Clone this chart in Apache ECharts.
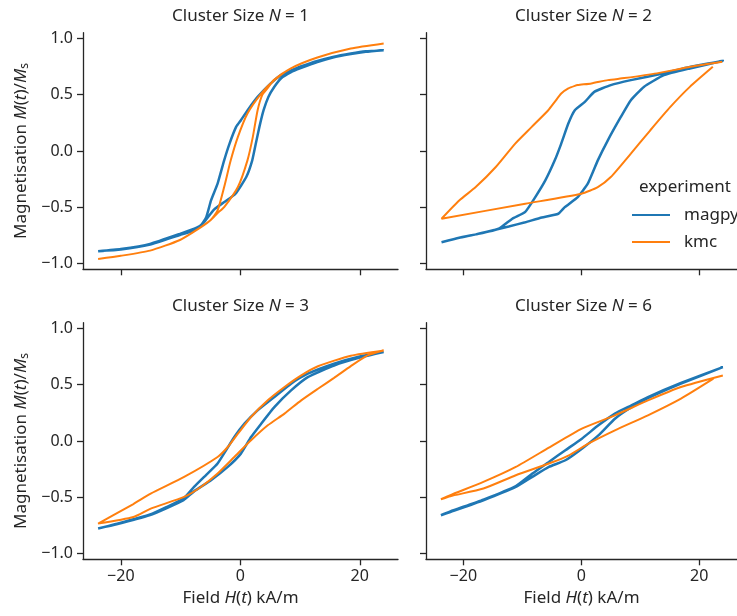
<!DOCTYPE html>
<html>
<head>
<meta charset="utf-8">
<script src="https://cdn.jsdelivr.net/npm/echarts@6/dist/echarts.min.js"></script>
<style>
  html, body { margin: 0; padding: 0; background: #ffffff; }
  #chart { width: 737px; height: 616px; }
</style>
</head>
<body>
<div id="chart"></div>
<script>
// Hysteresis loops: field H(t) [kA/m] against normalised magnetisation M(t)/Ms.
// Each loop is stored as a sweep: field values and the matching magnetisation.

// Cluster size N = 1
const n1MagpyH = [-23.8, -20, -15.1, -10.1, -7.3, -6.2, -4.4, -2.6, -0.8, 1.0, 2.0, 2.6, 3.2, 3.9, 4.7, 5.7, 6.8, 8.5, 10.1, 12.9, 15.5, 18.5, 21, 24,
                  21, 18.5, 15.5, 12.9, 10.1, 8.5, 6.8, 5.1, 2.9, 1.2, 0.1, -0.7, -1.8, -2.7, -3.8, -4.9, -5.7, -6.6, -8.0, -10.1, -15.1, -20, -23.8];
const n1MagpyM = [-0.89, -0.87, -0.824, -0.735, -0.68, -0.64, -0.52, -0.45, -0.379, -0.231, -0.083, 0.066, 0.214, 0.362, 0.48, 0.57, 0.644, 0.70, 0.735, 0.79, 0.83, 0.86, 0.88, 0.895,
                  0.885, 0.865, 0.835, 0.80, 0.75, 0.715, 0.673, 0.60, 0.48, 0.36, 0.273, 0.214, 0.066, -0.083, -0.29, -0.439, -0.587, -0.66, -0.71, -0.745, -0.83, -0.875, -0.89];
const n1KmcH = [-23.8, -20, -15.1, -10.1, -6.7, -5.0, -3.8, -2.7, -0.4, 1.2, 2.1, 2.9, 3.7, 4.6, 5.6, 8.4, 12.9, 18.5, 24,
                18.5, 12.9, 8.4, 5.7, 3.5, 1.2, -0.4, -1.6, -2.7, -3.8, -5.0, -6.7, -10.1, -15.1, -20, -23.8];
const n1KmcM = [-0.958, -0.93, -0.884, -0.79, -0.68, -0.615, -0.55, -0.498, -0.32, -0.083, 0.125, 0.362, 0.50, 0.56, 0.63, 0.732, 0.83, 0.91, 0.955,
                0.91, 0.83, 0.732, 0.629, 0.51, 0.333, 0.125, -0.083, -0.32, -0.528, -0.615, -0.68, -0.79, -0.884, -0.93, -0.958];

// Cluster size N = 2
const n2MagpyH = [-23.7, -20.7, -17.9, -15.1, -12.3, -9.5, -6.7, -3.9, -2.8, -0.6, 1.1, 2.8, 4.5, 6.7, 8.4, 10.6, 14.0, 18.4, 24,
                  18.4, 14.0, 8.4, 5.0, 2.2, 0.6, -1.1, -2.2, -3.4, -4.5, -6.1, -7.8, -9.5, -11.7, -14.0, -17.9, -20.7, -23.7];
const n2MagpyM = [-0.81, -0.77, -0.74, -0.706, -0.67, -0.632, -0.59, -0.557, -0.498, -0.409, -0.29, -0.083, 0.095, 0.302, 0.451, 0.569, 0.673, 0.733, 0.80,
                  0.745, 0.69, 0.629, 0.585, 0.525, 0.436, 0.362, 0.244, 0.066, -0.083, -0.261, -0.409, -0.54, -0.601, -0.69, -0.74, -0.77, -0.81];
const n2KmcH = [23.9, 18.5, 12.8, 7.3, 4.5, 1.7, -0.6, -1.1, -2.2, -3.4, -4.5, -5.6, -8.4, -11.2, -14.5, -17.9, -20.7, -23.7,
                -9.5, 0, 2.8, 5.0, 8.4, 11.7, 15.1, 18.4, 22.3];
const n2KmcM = [0.792, 0.747, 0.689, 0.647, 0.629, 0.60, 0.585, 0.578, 0.555, 0.51, 0.436, 0.362, 0.214, 0.066, -0.142, -0.32, -0.439, -0.601,
                -0.468, -0.379, -0.32, -0.231, -0.023, 0.184, 0.391, 0.569, 0.747];

// Cluster size N = 3
const n3MagpyH = [-23.8, -20.7, -15.1, -12.3, -9.5, -7.7, -4.9, -2.1, 0.1, 1.8, 3.5, 5.7, 8.5, 11.3, 15.7, 20, 24,
                  20, 15.7, 11.3, 8.5, 5.7, 2.9, 0.7, -1.0, -3.8, -5.7, -7.7, -9.5, -12.3, -15.1, -20.7, -23.8];
const n3MagpyM = [-0.777, -0.74, -0.658, -0.595, -0.525, -0.445, -0.348, -0.23, -0.112, 0.035, 0.154, 0.301, 0.449, 0.567, 0.67, 0.74, 0.789,
                  0.75, 0.686, 0.597, 0.509, 0.39, 0.272, 0.154, 0.035, -0.2, -0.3, -0.405, -0.51, -0.585, -0.652, -0.735, -0.777];
const n3KmcH = [24, 18.5, 13.0, 10.2, 7.4, 4.6, 1.8, -0.4, -2.1, -3.8, -9.4, -15, -17.9, -23.8,
                -17.9, -15, -9.4, -6.6, -3.8, -1.0, 1.8, 4.6, 7.4, 10.2, 13.0, 15.7, 18.5, 21.3, 24];
const n3KmcM = [0.804, 0.757, 0.663, 0.582, 0.479, 0.361, 0.213, 0.065, -0.053, -0.142, -0.319, -0.467, -0.56, -0.733,
                -0.674, -0.6, -0.496, -0.408, -0.289, -0.142, 0.006, 0.139, 0.243, 0.361, 0.464, 0.56, 0.665, 0.76, 0.804];

// Cluster size N = 6
const n6MagpyH = [-23.8, -22.2, -16.6, -11.1, -8.3, -5.5, -2.7, 0.1, 2.9, 5.7, 8.5, 11.3, 16.9, 24,
                  16.9, 11.3, 8.5, 5.7, 2.9, 0.1, -2.7, -5.5, -8.3, -11.1, -16.6, -22.2, -23.8];
const n6MagpyM = [-0.659, -0.63, -0.526, -0.408, -0.318, -0.23, -0.171, -0.068, 0.05, 0.198, 0.30, 0.38, 0.509, 0.656,
                  0.515, 0.39, 0.316, 0.243, 0.139, 0.021, -0.082, -0.186, -0.289, -0.40, -0.52, -0.625, -0.659];
const n6KmcH = [24, 16.9, 11.3, 5.7, 0.1, -5.5, -11.1, -16.6, -22.2, -23.8,
                -22.2, -16.6, -11.1, -5.5, -2.1, 1.2, 5.7, 11.3, 16.9, 22.4];
const n6KmcM = [0.582, 0.479, 0.36, 0.228, 0.11, -0.059, -0.23, -0.363, -0.48, -0.517,
                -0.49, -0.422, -0.304, -0.2, -0.127, -0.023, 0.095, 0.228, 0.376, 0.553];

// Axis ticks
const fieldTicks = [-20, 0, 20];
const magTicks = [-1.0, -0.5, 0.0, 0.5, 1.0];
const clusterSizes = ['1', '2', '3', '6'];

const FONT = '"Noto Sans", "DejaVu Sans", sans-serif';
const INK = '#262626';
const BLUE = '#1f77b4';
const ORANGE = '#ff7f0e';

const zip = (xs, ys) => xs.map((x, i) => [x, ys[i]]);
const minus = s => String(s).replace('-', '\u2212');

const loops = [
  { magpy: zip(n1MagpyH, n1MagpyM), kmc: zip(n1KmcH, n1KmcM) },
  { magpy: zip(n2MagpyH, n2MagpyM), kmc: zip(n2KmcH, n2KmcM) },
  { magpy: zip(n3MagpyH, n3MagpyM), kmc: zip(n3KmcH, n3KmcM) },
  { magpy: zip(n6MagpyH, n6MagpyM), kmc: zip(n6KmcH, n6KmcM) }
];

// Facet layout (2 x 2)
const layout = [
  { left: 83,  top: 32.7,  col: 0, row: 0 },
  { left: 426, top: 32.7,  col: 1, row: 0 },
  { left: 83,  top: 322.7, col: 0, row: 1 },
  { left: 426, top: 322.7, col: 1, row: 1 }
];
const PW = 315, PH = 236.6;

const TXT = 17;
const rich = {
  r: { fontFamily: FONT, fontSize: TXT, color: INK, fontWeight: 'normal' },
  i: { fontFamily: FONT, fontSize: TXT, color: INK, fontWeight: 'normal', fontStyle: 'italic' },
  s: { fontFamily: FONT, fontSize: 12, color: INK, fontWeight: 'normal', verticalAlign: 'bottom', padding: [8, 0, 0, 0] }
};

const axisLine = { show: true, onZero: false, lineStyle: { color: INK, width: 1.3 } };
const axisTickStyle = { color: INK, width: 1.3 };

const grid = [], xAxis = [], yAxis = [], title = [], series = [];

layout.forEach((p, i) => {
  grid.push({ left: p.left, top: p.top, width: PW, height: PH, containLabel: false });

  title.push({
    text: '{r|Cluster Size }{i|N}{r| = ' + clusterSizes[i] + '}',
    left: p.left + PW / 2,
    top: p.top - 25.5,
    textAlign: 'center',
    padding: 0,
    textStyle: { fontWeight: 'normal', rich: rich }
  });

  xAxis.push({
    type: 'value', gridIndex: i, min: -26.33, max: 26.4,
    axisLine: axisLine,
    axisTick: { show: true, length: 6, customValues: fieldTicks, lineStyle: axisTickStyle },
    axisLabel: {
      show: p.row === 1, customValues: fieldTicks, margin: 9,
      fontFamily: FONT, fontSize: 16, color: INK,
      formatter: v => minus(v)
    },
    splitLine: { show: false },
    name: p.row === 1 ? '{r|Field }{i|H}{r|(}{i|t}{r|) kA/m}' : '',
    nameLocation: 'middle', nameGap: 30,
    nameTextStyle: { rich: rich }
  });

  yAxis.push({
    type: 'value', gridIndex: i, min: -1.05, max: 1.05,
    axisLine: axisLine,
    axisTick: { show: true, length: 6, customValues: magTicks, lineStyle: axisTickStyle },
    axisLabel: {
      show: p.col === 0, customValues: magTicks, margin: 10,
      fontFamily: FONT, fontSize: 16, color: INK,
      formatter: v => minus(Number(v).toFixed(1))
    },
    splitLine: { show: false },
    name: p.col === 0 ? '{r|Magnetisation }{i|M}{r|(}{i|t}{r|)/}{i|M}{s|s}' : '',
    nameLocation: 'middle', nameGap: 52, nameRotate: 90,
    nameTextStyle: { rich: rich }
  });

  series.push({
    name: 'magpy', type: 'line', xAxisIndex: i, yAxisIndex: i,
    data: loops[i].magpy, showSymbol: false, symbol: 'none',
    lineStyle: { color: BLUE, width: 2.5 }, itemStyle: { color: BLUE },
    smooth: 0.15, z: 2
  });
  series.push({
    name: 'kmc', type: 'line', xAxisIndex: i, yAxisIndex: i,
    data: loops[i].kmc, showSymbol: false, symbol: 'none',
    lineStyle: { color: ORANGE, width: 2 }, itemStyle: { color: ORANGE },
    smooth: 0.2, z: 3
  });
});

const chart = echarts.init(document.getElementById('chart'), null, { renderer: 'canvas' });
chart.setOption({
  animation: false,
  backgroundColor: '#ffffff',
  title: title,
  grid: grid,
  xAxis: xAxis,
  yAxis: yAxis,
  series: series,
  legend: {
    data: ['magpy', 'kmc'],
    orient: 'vertical',
    left: 632, top: 205,
    icon: 'rect', itemWidth: 38, itemHeight: 2, itemGap: 7,
    padding: 0,
    textStyle: { fontFamily: FONT, fontSize: 17, color: INK, lineHeight: 20, padding: [0, 0, 0, 9] },
    selectedMode: false
  },
  graphic: [{
    type: 'text', left: 639, top: 179,
    style: { text: 'experiment', font: '17px ' + FONT, fill: INK }
  }]
});
</script>
</body>
</html>
